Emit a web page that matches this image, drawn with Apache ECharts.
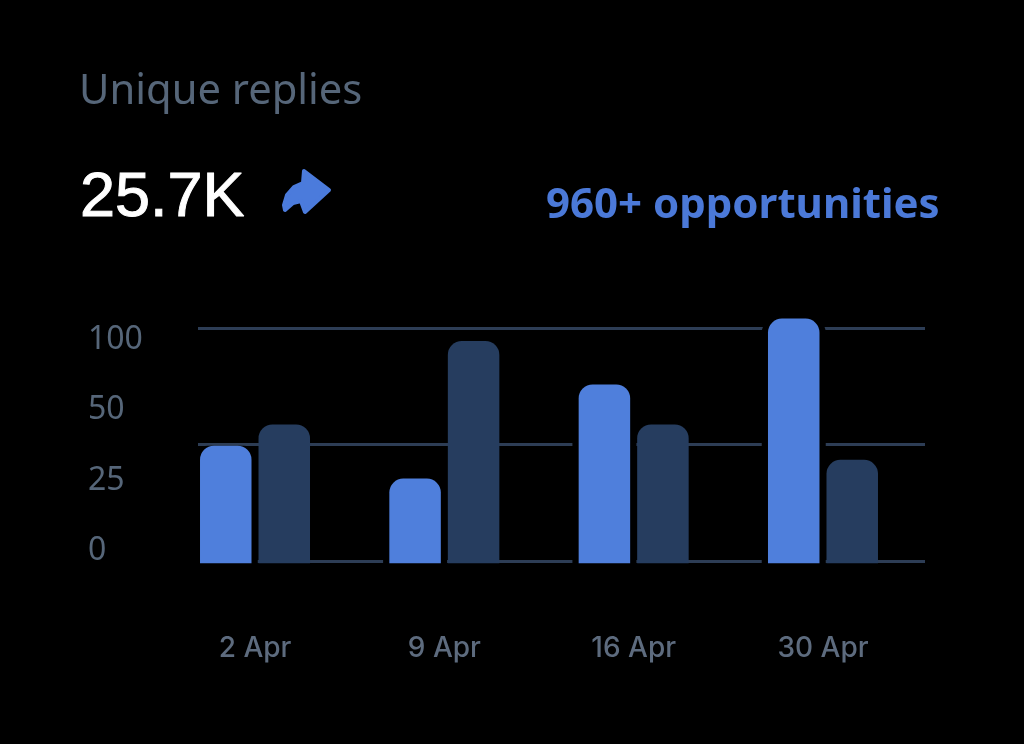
<!DOCTYPE html>
<html>
<head>
<meta charset="utf-8">
<style>html,body{margin:0;padding:0;background:#000}#c{width:1024px;height:744px}</style>
<script src="https://cdn.jsdelivr.net/npm/echarts@6/dist/echarts.min.js"></script>
</head>
<body>
<div id="c"></div>
<script>
const categories = ['2 Apr', '9 Apr', '16 Apr', '30 Apr'];
const lightValues = [50, 36, 76, 104];
const darkValues = [59, 94.5, 59, 44];
const yTickLabels = ['0', '25', '50', '100'];
const titleText = 'Unique replies';
const totalText = '25.7K';
const calloutText = '960+ opportunities';

const chart = echarts.init(document.getElementById('c'), null, {renderer: 'canvas'});
chart.setOption({
  animation: false,
  backgroundColor: '#000',
  title: [
    {text: titleText, left: 74, top: 66, textStyle: {color: '#566679', fontFamily: 'Noto Sans', fontWeight: 400, fontSize: 41.7}},
    {text: totalText, left: 75, top: 162, textStyle: {color: '#fff', fontFamily: 'Liberation Sans', fontWeight: 400, fontSize: 63, textBorderColor: '#fff', textBorderWidth: 1}},
    {text: calloutText, left: 541, top: 180, textStyle: {color: '#4b79d8', fontFamily: 'Noto Sans', fontWeight: 700, fontSize: 42}}
  ],
  grid: [
    {left: 160.35, right: 106.35, top: 304.5, bottom: 180.7},
    {left: 198, right: 99, top: 328, bottom: 183},
    {left: 160, right: 99, top: 339.5, bottom: 193},
    {left: 131.1, right: 135.6, top: 304.5, bottom: 180.7}
  ],
  xAxis: [
    {gridIndex: 0, type: 'category', data: categories, axisLine: {show: false}, axisTick: {show: false},
     axisLabel: {color: '#5d6b7e', fontFamily: 'Inter', fontWeight: 500, fontSize: 28, margin: 71}},
    {gridIndex: 1, type: 'value', min: 0, max: 1, show: false},
    {gridIndex: 2, type: 'value', min: 0, max: 1, show: false},
    {gridIndex: 3, type: 'category', data: categories, show: false}
  ],
  yAxis: [
    {gridIndex: 0, type: 'value', min: 0, max: 110, show: false},
    {gridIndex: 1, type: 'value', min: 0, max: 100, interval: 50, axisLine: {show: false}, axisTick: {show: false}, axisLabel: {show: false},
     splitLine: {show: true, lineStyle: {color: '#2d3d55', width: 3}}},
    {gridIndex: 2, type: 'category', boundaryGap: false, data: yTickLabels, axisLine: {show: false}, axisTick: {show: false}, splitLine: {show: false},
     axisLabel: {color: '#566679', fontFamily: 'Noto Sans', fontSize: 32, align: 'left', margin: 72}},
    {gridIndex: 3, type: 'value', min: 0, max: 110, show: false}
  ],
  series: [
    {type: 'bar', xAxisIndex: 3, yAxisIndex: 3, data: lightValues, barWidth: 64, z: 3, silent: true,
     itemStyle: {color: '#000', borderRadius: [14, 14, 0, 0]}},
    {type: 'bar', xAxisIndex: 0, yAxisIndex: 0, data: lightValues, barWidth: 51.5, barGap: '13.6%', z: 5,
     itemStyle: {color: '#4f7fdc', borderRadius: [14, 14, 0, 0]}},
    {type: 'bar', xAxisIndex: 0, yAxisIndex: 0, data: darkValues, barWidth: 51.5, z: 5,
     itemStyle: {color: '#263d5f', borderRadius: [14, 14, 0, 0]}}
  ],
  graphic: [{
    type: 'polygon', z: 10,
    shape: {points: [[304,171],[329,190],[305,212],[301,201],[293,203],[285,210],[284,205],[287,195],[294,187],[303,183]]},
    style: {fill: '#4b7bdc', stroke: '#4b7bdc', lineWidth: 4, lineJoin: 'round'}
  }]
});
</script>
</body>
</html>
